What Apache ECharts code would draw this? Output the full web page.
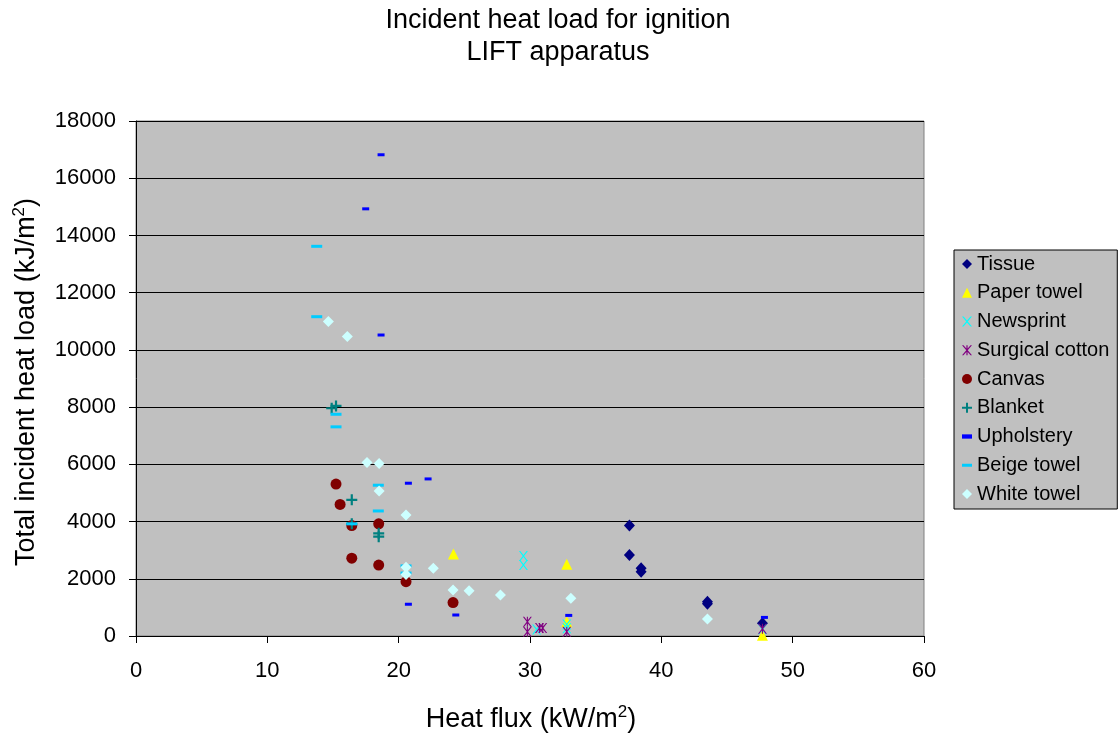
<!DOCTYPE html>
<html>
<head>
<meta charset="utf-8">
<script src="https://cdn.jsdelivr.net/npm/echarts@6/dist/echarts.min.js"></script>
<style>
html,body{margin:0;padding:0;background:#fff;}
#c{width:1120px;height:739px;}
</style>
</head>
<body>
<div id="c"></div>
<script>
// ---- data (heat flux kW/m2, total incident heat load kJ/m2) ----
var tissue = [[37.57,3860],[37.57,2830],[38.46,2370],[38.46,2250],[43.51,1200],[43.51,1130],[47.7,450]];
var paperTowel = [[24.17,2870],[32.8,2510],[32.8,500],[47.7,30]];
var newsprint = [[29.5,2800],[29.5,2480],[30.5,230],[32.8,400],[32.8,270],[47.7,240]];
var surgicalCotton = [[29.8,500],[29.8,150],[30.72,280],[30.97,280],[32.8,150],[47.7,250]];
var canvas = [[15.23,5310],[15.54,4600],[16.43,3860],[18.48,3920],[16.43,2720],[18.48,2480],[20.56,1900],[24.14,1170]];
var blanket = [[14.9,7960],[15.23,8040],[16.43,4760],[16.43,3920],[18.48,3590],[18.48,3470]];
var upholstery = [[18.66,16820],[17.49,14930],[18.66,10520],[20.74,5340],[22.24,5490],[20.74,1110],[24.35,734],[32.95,720],[47.85,650]];
var beigeTowel = [[13.76,13620],[13.76,11160],[15.23,7750],[15.23,7310],[18.45,5270],[18.45,4370],[16.43,3920],[20.56,2450],[20.56,2200]];
var whiteTowel = [[14.65,10990],[16.09,10470],[17.59,6060],[18.51,6030],[18.51,5070],[20.56,4230],[20.56,2400],[20.56,2150],[22.64,2370],[24.14,1610],[25.36,1580],[27.75,1430],[33.11,1320],[43.51,594]];

var seriesNames = ['Tissue','Paper towel','Newsprint','Surgical cotton','Canvas','Blanket','Upholstery','Beige towel','White towel'];
var xTicks = {min:0, max:60, interval:10};
var yTicks = {min:0, max:18000, interval:2000};

var FONT = 'Liberation Sans, Arial, sans-serif';
var PLUS = 'path://M4,0H6V4H10V6H6V10H4V6H0V4H4Z';
var XMARK = 'path://M0,0L1.5,0L5,4L8.5,0L10,0L5.75,5L10,10L8.5,10L5,6L1.5,10L0,10L4.25,5Z';
var ASTER = 'path://M0,0L1.5,0L5,4L8.5,0L10,0L5.75,5L10,10L8.5,10L5,6L1.5,10L0,10L4.25,5Z M4.4,0H5.6V10H4.4Z';

var styles = [
  {data: tissue, symbol:'diamond', size:[11,12], color:'#000080'},
  {data: paperTowel, symbol:'triangle', size:11, color:'#FFFF00'},
  {data: newsprint, symbol:XMARK, size:[9,10], color:'#00FFFF'},
  {data: surgicalCotton, symbol:ASTER, size:[9,10], color:'#800080'},
  {data: canvas, symbol:'circle', size:11, color:'#800000'},
  {data: blanket, symbol:PLUS, size:11, color:'#008080'},
  {data: upholstery, symbol:'rect', size:[7,3], color:'#0000FF'},
  {data: beigeTowel, symbol:'rect', size:[11,3], color:'#00CCFF'},
  {data: whiteTowel, symbol:'diamond', size:11, color:'#CCFFFF'}
];

var series = styles.map(function(s, i){
  return {
    name: seriesNames[i], type:'scatter', data: s.data,
    symbol: s.symbol, symbolSize: s.size,
    itemStyle: {color: s.color, opacity:1},
    emphasis: {disabled:true}, animation:false
  };
});

var legendIcons = ['diamond','triangle',XMARK,ASTER,'circle',PLUS,'path://M0,0H7V3H0Z','path://M0,0H10V3H0Z','diamond'];

var chart = echarts.init(document.getElementById('c'), null, {renderer:'canvas'});
chart.setOption({
  animation:false,
  backgroundColor:'#ffffff',
  textStyle:{fontFamily:FONT, color:'#000'},
  title:{
    text:'Incident heat load for ignition\nLIFT apparatus',
    left:553, top:0, textAlign:'center',
    textStyle:{fontFamily:FONT, fontSize:27, fontWeight:'normal', color:'#000', lineHeight:32}
  },
  grid:{left:136, right:196, top:121, bottom:103, show:true, backgroundColor:'#C0C0C0', borderColor:'#808080', borderWidth:1},
  xAxis:{
    type:'value', min:xTicks.min, max:xTicks.max, interval:xTicks.interval,
    axisLine:{show:true, onZero:false, lineStyle:{color:'#000', width:1}},
    axisTick:{show:true, inside:false, length:7, lineStyle:{color:'#000'}},
    axisLabel:{fontFamily:FONT, fontSize:22, color:'#000', margin:24},
    splitLine:{show:false}
  },
  yAxis:{
    type:'value', min:yTicks.min, max:yTicks.max, interval:yTicks.interval,
    axisLine:{show:true, onZero:false, lineStyle:{color:'#000', width:1}},
    axisTick:{show:true, inside:false, length:7, lineStyle:{color:'#000'}},
    axisLabel:{fontFamily:FONT, fontSize:22, color:'#000', margin:20,
      formatter:function(v){ return String(v); }},
    splitLine:{show:true, lineStyle:{color:'#000', width:1}}
  },
  legend:{
    orient:'vertical', left:954, top:250,
    padding:[4,8,5,8], itemGap:8.75, itemWidth:10, itemHeight:10,
    backgroundColor:'#C0C0C0', borderColor:'#000', borderWidth:1, borderRadius:0,
    textStyle:{fontFamily:FONT, fontSize:20, color:'#000', lineHeight:20},
    data: seriesNames.map(function(n, i){ return {name:n, icon:legendIcons[i]}; }),
    selectedMode:false
  },
  graphic:[
    {type:'text', x:531, y:720,
      style:{text:'Heat flux (kW/m{sup|2})', fontFamily:FONT, fontSize:27, fill:'#000', align:'center', verticalAlign:'middle',
        rich:{sup:{fontFamily:FONT, fontSize:17, padding:[0,0,16,0], fill:'#000'}}}},
    {type:'text', x:27, y:382, rotation:Math.PI/2,
      style:{text:'Total incident heat load (kJ/m{sup|2})', fontFamily:FONT, fontSize:27, fill:'#000', align:'center', verticalAlign:'middle',
        rich:{sup:{fontFamily:FONT, fontSize:17, padding:[0,0,16,0], fill:'#000'}}}}
  ],
  series: series
});
</script>
</body>
</html>
